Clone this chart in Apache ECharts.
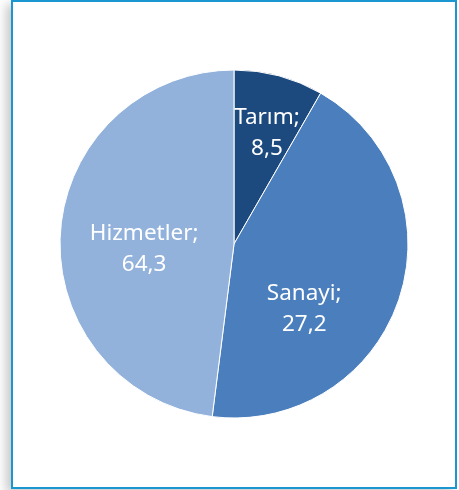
<!DOCTYPE html>
<html>
<head>
<meta charset="utf-8">
<script src="https://cdn.jsdelivr.net/npm/echarts@6/dist/echarts.min.js"></script>
<style>
  html, body { margin: 0; padding: 0; background: #ffffff; }
  #frame {
    position: absolute; left: 11px; top: 0; width: 442px; height: 485px;
    border: 2px solid #1a96d0; background: #fff;
    box-shadow: -5px 4px 10px rgba(0, 0, 0, 0.22);
  }
  #chart { position: absolute; left: 0; top: 0; width: 459px; height: 490px; }
</style>
</head>
<body>
<div id="frame"></div>
<div id="chart"></div>
<script>
// sektörler
const categories = ["Tarım", "Sanayi", "Hizmetler"];
// yazılı değerler (etiketlerde)
const labelValues = ["8,5", "27,2", "64,3"];
// dilim büyüklükleri, resimdeki açılardan okundu
const sliceShares = [8.3, 43.7, 48.0];
const colors = ["#1c4a7f", "#4a7ebd", "#92b2dc"];

// etiket yerleri: merkeze göre açı (saat yönü, tepeden) ve yarıçap
const labelPolar = [
  { angle: 16.5, r: 116 },
  { angle: 133, r: 96 },
  { angle: 266.5, r: 90 }
];
const cx = 234, cy = 244, radius = 174;

const chart = echarts.init(document.getElementById("chart"));
chart.setOption({
  animation: false,
  series: [
    {
      type: "pie",
      center: [cx, cy],
      radius: radius,
      startAngle: 90,
      clockwise: true,
      data: categories.map((name, i) => ({
        name: name,
        value: sliceShares[i],
        itemStyle: { color: colors[i] }
      })),
      itemStyle: { borderColor: "#ffffff", borderWidth: 1 },
      label: {
        position: "inside",
        color: "#ffffff",
        fontFamily: "Noto Sans",
        fontSize: 22.5,
        lineHeight: 31,
        align: "center",
        formatter: (p) => p.name + ";\n" + labelValues[p.dataIndex]
      },
      labelLine: { show: false },
      labelLayout: (p) => {
        const lp = labelPolar[p.dataIndex];
        const a = lp.angle * Math.PI / 180;
        return {
          x: cx + lp.r * Math.sin(a),
          y: cy - lp.r * Math.cos(a),
          align: "center",
          verticalAlign: "middle"
        };
      }
    }
  ]
});
</script>
</body>
</html>
